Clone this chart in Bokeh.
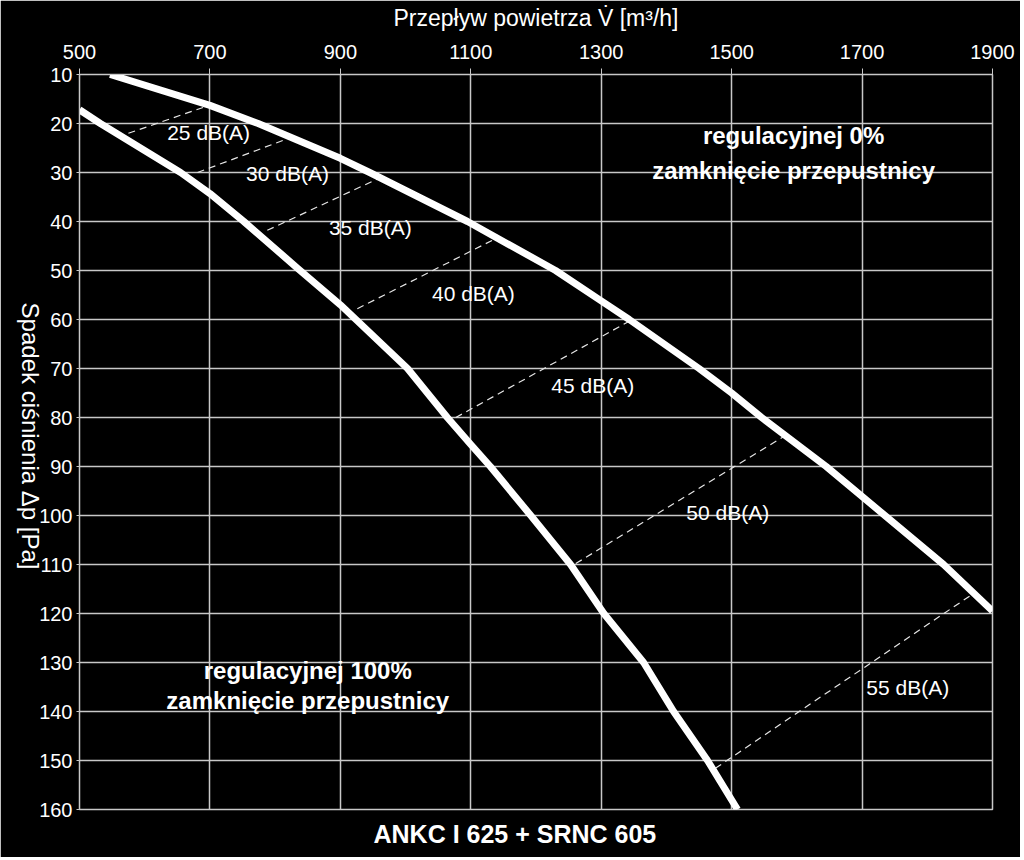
import math
from bokeh.plotting import figure
from bokeh.models import Range1d, FixedTicker, Title
from bokeh.embed import file_html
from bokeh.resources import INLINE
from bokeh.core.properties import value

# ---- data ----
x_ticks = [500, 700, 900, 1100, 1300, 1500, 1700, 1900]
y_ticks = [10, 20, 30, 40, 50, 60, 70, 80, 90, 100, 110, 120, 130, 140, 150, 160]

# damper closed 0 % (upper/right curve)
flow_0 = [547, 700, 774, 900, 945, 1095, 1230, 1300, 1343, 1450, 1500, 1546, 1645, 1735, 1825, 1900]
dp_0 = [10, 16.3, 20, 27.1, 30, 40, 50, 56.2, 60, 70, 75, 80, 90, 100, 110, 119.5]

# damper closed 100 % (lower/left curve)
flow_100 = [500, 532, 655, 700, 752, 834, 900, 1003, 1064, 1100, 1130, 1192, 1253, 1304, 1365, 1411, 1463, 1509]
dp_100 = [17.2, 20, 30, 34.3, 40, 49.5, 57.0, 70, 80, 85.5, 90, 100, 110, 120, 130, 140, 150, 160]

# iso-noise lines
noise_labels = ["25 dB(A)", "30 dB(A)", "35 dB(A)", "40 dB(A)", "45 dB(A)", "50 dB(A)", "55 dB(A)"]
noise_f0 = [575, 681, 788, 926, 1077, 1261, 1475]
noise_p0 = [22.0, 30.0, 41.8, 57.8, 80.0, 109.8, 151.6]
noise_f1 = [690, 819, 962, 1141, 1345, 1587, 1871]
noise_p1 = [16.7, 23.1, 31.0, 43.3, 60.2, 83.3, 115.9]
noise_lab_f = [698, 819, 946, 1104, 1287, 1494, 1770]
noise_lab_p = [21.8, 30.2, 41.2, 54.7, 73.5, 99.4, 135.1]

region_text = ["regulacyjnej 0%", "zamknięcie przepustnicy",
               "regulacyjnej 100%", "zamknięcie przepustnicy"]
region_f = [1595, 1595, 850, 850]
region_p = [22.4, 29.6, 131.6, 137.8]

title_text = "ANKC I 625 + SRNC 605"
x_title = "Przepływ powietrza V\u0307 [m³/h]"
y_title = "Spadek ciśnienia Δp [Pa]"

FONT = "Liberation Sans"
GRID = "#c8c8c8"

p = figure(frame_width=913, frame_height=735,
           x_range=Range1d(500, 1900), y_range=Range1d(160, 10),
           x_axis_location="above", output_backend="svg", toolbar_location=None,
           min_border_left=79, min_border_top=74, min_border_right=28, min_border_bottom=48,
           background_fill_color="black", border_fill_color="black")
p.outline_line_color = GRID
p.outline_line_width = 1.5

# axes
p.xaxis.ticker = FixedTicker(ticks=x_ticks)
p.yaxis.ticker = FixedTicker(ticks=y_ticks)
for ax in (p.xaxis, p.yaxis):
    ax.axis_line_color = GRID
    ax.major_tick_line_color = GRID
    ax.minor_tick_line_color = None
    ax.major_tick_in = 0
    ax.major_label_text_color = "white"
    ax.major_label_text_font = FONT
    ax.major_label_text_font_size = "20px"
    ax.axis_label_text_color = "white"
    ax.axis_label_text_font = FONT
    ax.axis_label_text_font_style = "normal"
p.xaxis.major_tick_out = 6
p.xaxis.major_label_standoff = 10
p.xaxis.axis_label = x_title
p.xaxis.axis_label_text_font_size = "23px"
p.xaxis.axis_label_standoff = 11
p.yaxis.major_tick_out = 3
p.yaxis.major_label_standoff = 4
# label reads top-to-bottom; its end is anchored at the bottom of the axis,
# so trailing no-break spaces lift the visible words to the middle
p.yaxis.axis_label = y_title + "\u00a0" * 36
p.yaxis.axis_label_text_font_size = "24px"
p.yaxis.axis_label_standoff = 6
try:
    p.yaxis.axis_label_orientation = -math.pi / 2
    p.yaxis.axis_label_align = "end"
except Exception:
    pass

# grid
p.xgrid.ticker = FixedTicker(ticks=x_ticks)
p.ygrid.ticker = FixedTicker(ticks=y_ticks)
p.grid.grid_line_color = GRID
p.grid.grid_line_width = 1.5

# iso-noise dashed lines
p.segment(x0=noise_f0, y0=noise_p0, x1=noise_f1, y1=noise_p1,
          line_color="#e6e6e6", line_width=1.2, line_dash="7 5")

# curves
p.line(flow_0, dp_0, line_color="white", line_width=7, line_join="round")
p.line(flow_100, dp_100, line_color="white", line_width=7, line_join="round")

# labels
p.text(x=noise_lab_f, y=noise_lab_p, text=noise_labels,
       text_font=value(FONT), text_font_size=value("21px"),
       text_align="center", text_baseline="middle", text_color="white")
p.text(x=region_f, y=region_p, text=region_text,
       text_font=value(FONT), text_font_size=value("24px"), text_font_style="bold",
       text_align="center", text_baseline="middle", text_color="white")

t = Title(text=title_text, align="left", offset=294, standoff=16, text_color="white",
          text_font=FONT, text_font_size="25px", text_font_style="bold")
p.add_layout(t, "below")

open("out.html", "w").write(file_html(p, INLINE))
